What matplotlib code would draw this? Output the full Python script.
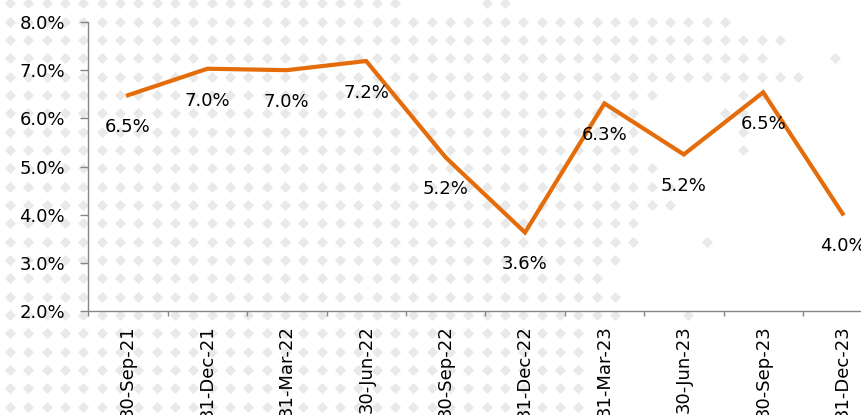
import numpy as np
import matplotlib.pyplot as plt
from matplotlib.ticker import FixedLocator, NullFormatter

quarters = ["30-Sep-21", "31-Dec-21", "31-Mar-22", "30-Jun-22", "30-Sep-22",
            "31-Dec-22", "31-Mar-23", "30-Jun-23", "30-Sep-23", "31-Dec-23"]
rate = [6.48, 7.03, 7.00, 7.19, 5.19, 3.63, 6.31, 5.25, 6.54, 4.02]
y_ticks = [2.0, 3.0, 4.0, 5.0, 6.0, 7.0, 8.0]

# background diamond pattern: which parts of each row are filled (pixels)
pattern_rows = [
    [(0, 410), (480, 522)],
    [(0, 740)],
    [(0, 795)],
    [(0, 775), (825, 835)],
    [(0, 812)],
    [(0, 665), (735, 775)],
    [(0, 650), (715, 760)],
    [(0, 650), (735, 760)],
    [(0, 650), (735, 760)],
    [(0, 668)],
    [(0, 686)],
    [(0, 686)],
    [(0, 650)],
    [(0, 650), (695, 722)],
    [(0, 630)],
    [(0, 612), (715, 722)],
    [(0, 630), (715, 722)],
    [(0, 630), (675, 705)],
    [(0, 580)],
    [(0, 580)],
    [(0, 580)],
    [(0, 580)],
    [(0, 580)],
]

W, H = 861, 415
fig = plt.figure(figsize=(W / 100, H / 100), dpi=100)

bg = fig.add_axes([0, 0, 1, 1], zorder=0)
bg.set_xlim(0, W)
bg.set_ylim(H, 0)
bg.axis("off")
cols = 10 + 18.33 * np.arange(48)
px, py = [], []
for j, spans in enumerate(pattern_rows):
    yy = 3.5 + 18.33 * j
    for a, b in spans:
        sel = cols[(cols >= a) & (cols <= b)]
        px.extend(sel)
        py.extend([yy] * len(sel))
bg.scatter(px, py, marker="D", s=32, color="#e9e9e9", linewidths=0)

left, right, top, bottom = 88.3, 882.3, 22, 311
ax = fig.add_axes([left / W, 1 - bottom / H, (right - left) / W, (bottom - top) / H], zorder=1)
ax.patch.set_alpha(0)

x = np.arange(len(quarters))
ax.plot(x, rate, color="#E46C0A", lw=3, solid_joinstyle="miter", clip_on=False)
for xi, v in zip(x, rate):
    ax.annotate(f"{v:.1f}%", (xi, v), xytext=(0, -23), textcoords="offset points",
                ha="center", va="center", fontsize=13, color="black", annotation_clip=False)

ax.set_xlim(-0.5, len(quarters) - 0.5)
ax.set_ylim(2, 8)
ax.set_yticks(y_ticks)
ax.set_yticklabels([f"{t:.1f}%" for t in y_ticks], fontsize=13)
ax.xaxis.set_major_locator(FixedLocator(np.arange(len(quarters) + 1) - 0.5))
ax.xaxis.set_major_formatter(NullFormatter())
ax.xaxis.set_minor_locator(FixedLocator(x))
ax.set_xticklabels(quarters, minor=True, rotation=90, fontsize=13, va="top")

for s in ["top", "right"]:
    ax.spines[s].set_visible(False)
for s in ["left", "bottom"]:
    ax.spines[s].set_color("#868686")
    ax.spines[s].set_linewidth(1.0)
ax.tick_params(axis="y", direction="out", length=5.8, width=1.0, color="#868686", pad=11)
ax.tick_params(axis="x", which="major", direction="out", length=3.6, width=1.0, color="#868686")
ax.tick_params(axis="x", which="minor", length=0, pad=10)

fig.savefig("out.png", dpi=100)
